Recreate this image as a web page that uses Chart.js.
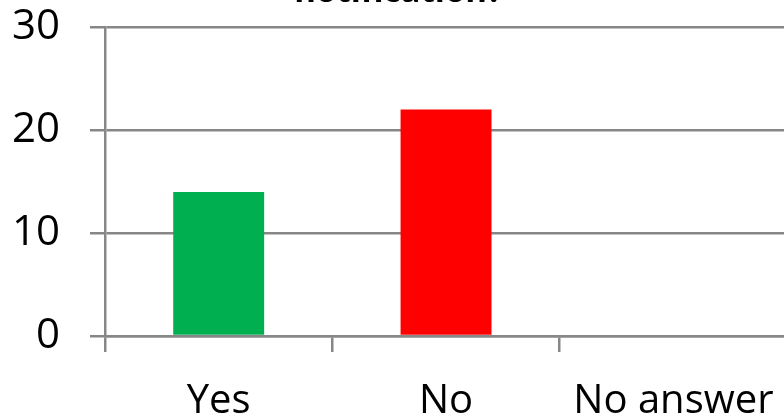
<!DOCTYPE html>
<html>
<head>
<meta charset="utf-8">
<script src="https://cdn.jsdelivr.net/npm/chart.js@4.4.0/dist/chart.umd.min.js"></script>
<style>
  html, body { margin: 0; padding: 0; background: #fff; overflow: hidden; width: 784px; height: 417px; }
  #wrap { position: absolute; left: 0; top: -28px; width: 800px; height: 448px; }
</style>
</head>
<body>
<div id="wrap"><canvas id="answers" width="800" height="448"></canvas></div>
<script>
// chart values
const categories = ['Yes', 'No', 'No answer']
const counts = [14, 22, 0]
const barColors = ['#00B050', '#FF0000', '#7F7F7F']
const yTicks = [0, 10, 20, 30]
const titleText = 'notification?'

const axisGrey = '#878787'

const ctx = document.querySelector('#answers')
const answersChart = new Chart(ctx, {
    type: 'bar',
    data: {
        labels: categories,
        datasets: [
            {
                label: 'Answers',
                data: counts,
                backgroundColor: barColors,
                borderWidth: 0,
                categoryPercentage: 1,
                barPercentage: 0.4,
            },
        ]
    },
    options: {
        responsive: false,
        animation: false,
        layout: { padding: { left: 0, right: 3, top: 0, bottom: 0 } },
        plugins: {
            legend: { display: false },
            tooltip: { enabled: false },
            title: {
                display: true,
                text: titleText,
                color: '#000',
                font: { family: 'Open Sans', size: 33, weight: 'bold', lineHeight: 1.2 },
                padding: { top: 0, bottom: 14.4 },
            },
        },
        scales: {
            x: {
                grid: {
                    offset: true,
                    drawOnChartArea: false,
                    drawTicks: true,
                    tickLength: 16,
                    color: axisGrey,
                    lineWidth: 2.5,
                },
                border: { color: axisGrey, width: 2.5 },
                ticks: {
                    color: '#000',
                    padding: 26,
                    maxRotation: 0,
                    autoSkip: false,
                    font: { family: 'Open Sans', size: 40 },
                },
                afterFit: (scale) => { scale.height = 84 },
            },
            y: {
                min: yTicks[0],
                max: yTicks[yTicks.length - 1],
                afterBuildTicks: (scale) => { scale.ticks = yTicks.map(v => ({ value: v })) },
                grid: {
                    color: axisGrey,
                    lineWidth: 2.5,
                    tickLength: 15,
                },
                border: { color: axisGrey, width: 2.5 },
                ticks: {
                    color: '#000',
                    padding: 30,
                    font: { family: 'Open Sans', size: 42 },
                },
                afterFit: (scale) => { scale.width = 105 },
            },
        },
    }
})
</script>
</body>
</html>
